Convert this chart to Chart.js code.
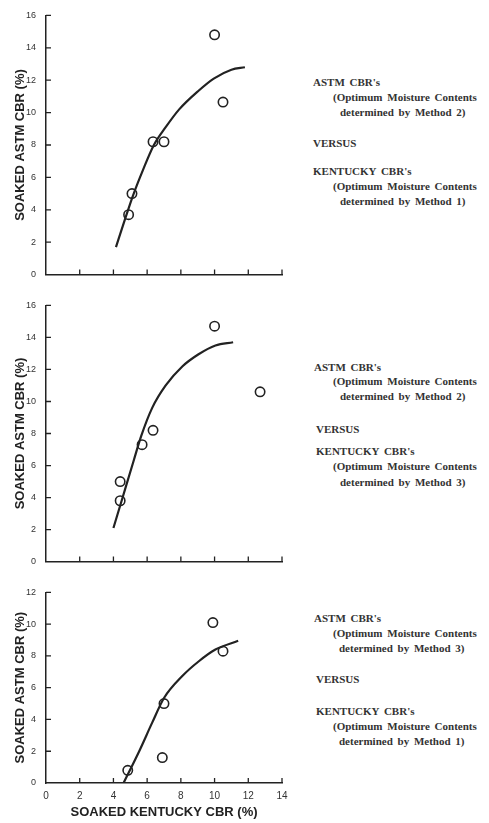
<!DOCTYPE html>
<html>
<head>
<meta charset="utf-8">
<title>Soaked ASTM CBR vs Soaked Kentucky CBR</title>
<script src="https://cdn.jsdelivr.net/npm/chart.js@4.4.1/dist/chart.umd.min.js"></script>
<style>
  html, body { margin: 0; padding: 0; background: #fff; }
  body { width: 489px; height: 823px; position: relative; overflow: hidden; }
  .panel { position: absolute; left: 0; width: 300px; }
  .note {
    position: absolute;
    font-family: "Liberation Serif", "DejaVu Serif", serif;
    font-weight: bold;
    font-size: 11px;
    line-height: 12px;
    color: #333;
    white-space: nowrap;
    word-spacing: 2px;
  }
</style>
</head>
<body>

<div class="panel" style="top:0;height:290px"><canvas id="chart1"></canvas></div>
<div class="panel" style="top:290px;height:287px"><canvas id="chart2"></canvas></div>
<div class="panel" style="top:577px;height:246px"><canvas id="chart3"></canvas></div>

<!-- panel 1 caption -->
<div class="note" style="left:313px;top:76px">ASTM CBR's</div>
<div class="note" style="left:333px;top:91px">(Optimum Moisture Contents</div>
<div class="note" style="left:340px;top:106px">determined by Method 2)</div>
<div class="note" style="left:313px;top:137px">VERSUS</div>
<div class="note" style="left:313px;top:165px">KENTUCKY CBR's</div>
<div class="note" style="left:333px;top:180px">(Optimum Moisture Contents</div>
<div class="note" style="left:340px;top:195px">determined by Method 1)</div>

<!-- panel 2 caption -->
<div class="note" style="left:314px;top:361px">ASTM CBR's</div>
<div class="note" style="left:333px;top:375px">(Optimum Moisture Contents</div>
<div class="note" style="left:340px;top:390px">determined by Method 2)</div>
<div class="note" style="left:316px;top:423px">VERSUS</div>
<div class="note" style="left:316px;top:445px">KENTUCKY CBR's</div>
<div class="note" style="left:333px;top:460px">(Optimum Moisture Contents</div>
<div class="note" style="left:340px;top:476px">determined by Method 3)</div>

<!-- panel 3 caption -->
<div class="note" style="left:314px;top:612px">ASTM CBR's</div>
<div class="note" style="left:333px;top:627px">(Optimum Moisture Contents</div>
<div class="note" style="left:339px;top:642px">determined by Method 3)</div>
<div class="note" style="left:316px;top:673px">VERSUS</div>
<div class="note" style="left:316px;top:705px">KENTUCKY CBR's</div>
<div class="note" style="left:333px;top:720px">(Optimum Moisture Contents</div>
<div class="note" style="left:339px;top:735px">determined by Method 1)</div>

<script>
// tick labels
const kentuckyTicks = [0, 2, 4, 6, 8, 10, 12, 14];
const astmTicks16 = [0, 2, 4, 6, 8, 10, 12, 14, 16];
const astmTicks12 = [0, 2, 4, 6, 8, 10, 12];

// panel 1: method 2 vs method 1
const kyCbr1 = [10.0, 10.5, 6.35, 7.0, 5.1, 4.9];
const astmCbr1 = [14.8, 10.65, 8.2, 8.2, 5.0, 3.7];
const fitKy1 = [4.15, 4.65, 5.15, 5.75, 6.4, 7.1, 7.9, 9.05, 9.95, 11.0, 11.8];
const fitAstm1 = [1.7, 3.3, 4.85, 6.45, 8.0, 9.1, 10.2, 11.35, 12.1, 12.65, 12.8];

// panel 2: method 2 vs method 3
const kyCbr2 = [10.0, 12.7, 6.35, 5.7, 4.4, 4.4];
const astmCbr2 = [14.7, 10.6, 8.2, 7.3, 5.0, 3.8];
const fitKy2 = [4.0, 4.5, 5.2, 5.65, 6.3, 7.1, 8.1, 9.05, 10.05, 11.1];
const fitAstm2 = [2.1, 3.85, 6.3, 7.85, 9.6, 11.0, 12.2, 12.95, 13.5, 13.7];

// panel 3: method 3 vs method 1
const kyCbr3 = [9.9, 10.5, 7.0, 6.9, 4.85];
const astmCbr3 = [10.1, 8.3, 5.0, 1.6, 0.8];
const fitKy3 = [4.6, 5.55, 6.3, 7.0, 8.1, 9.05, 10.05, 11.4];
const fitAstm3 = [0, 2.05, 3.8, 5.35, 6.75, 7.65, 8.4, 8.95];

const ink = '#222';

function pairs(xs, ys) {
    return xs.map((x, i) => ({ x: x, y: ys[i] }));
}

// ticks in the original point inwards, Chart.js only draws them outwards
const inwardTicks = {
    id: 'inwardTicks',
    afterDraw(chart) {
        const { ctx, chartArea } = chart;
        const x = chart.scales.x, y = chart.scales.y;
        ctx.save();
        ctx.strokeStyle = ink;
        ctx.lineWidth = 1.3;
        ctx.beginPath();
        x.ticks.forEach(t => {
            if (t.value === 0) return;
            const px = x.getPixelForValue(t.value);
            ctx.moveTo(px, chartArea.bottom);
            ctx.lineTo(px, chartArea.bottom - 5);
        });
        y.ticks.forEach(t => {
            if (t.value === 0) return;
            const py = y.getPixelForValue(t.value);
            ctx.moveTo(chartArea.left, py);
            ctx.lineTo(chartArea.left + 5, py);
        });
        ctx.stroke();
        ctx.restore();
    }
};

function makePanel(id, kx, ay, fx, fy, yTicks, showX, padTop, xHeight) {
    return new Chart(document.getElementById(id), {
        type: 'scatter',
        data: {
            datasets: [{
                data: pairs(fx, fy),
                showLine: true,
                borderColor: ink,
                borderWidth: 2.2,
                pointRadius: 0,
                cubicInterpolationMode: 'monotone',
                fill: false
            }, {
                data: pairs(kx, ay),
                pointRadius: 4.7,
                pointHoverRadius: 4.7,
                borderWidth: 1.6,
                borderColor: ink,
                backgroundColor: 'rgba(255,255,255,0)'
            }]
        },
        options: {
            responsive: true,
            maintainAspectRatio: false,
            animation: false,
            events: [],
            layout: { padding: { top: padTop, right: 18, left: 0, bottom: 0 } },
            plugins: {
                legend: { display: false },
                tooltip: { enabled: false }
            },
            scales: {
                x: {
                    type: 'linear',
                    min: kentuckyTicks[0],
                    max: kentuckyTicks[kentuckyTicks.length - 1],
                    afterBuildTicks: s => { s.ticks = kentuckyTicks.map(v => ({ value: v })); },
                    afterFit: s => { s.height = xHeight; },
                    grid: { display: false, drawTicks: false },
                    border: { display: true, color: ink, width: 1.5 },
                    ticks: {
                        display: showX,
                        padding: 7,
                        color: '#333',
                        autoSkip: false,
                        maxRotation: 0,
                        font: { family: 'Liberation Sans', size: 10 }
                    },
                    title: {
                        display: showX,
                        text: 'SOAKED KENTUCKY CBR (%)',
                        color: ink,
                        padding: { top: 0, bottom: 3 },
                        font: { family: 'Liberation Sans', size: 13, weight: 'bold' }
                    }
                },
                y: {
                    type: 'linear',
                    min: yTicks[0],
                    max: yTicks[yTicks.length - 1],
                    afterBuildTicks: s => { s.ticks = yTicks.map(v => ({ value: v })); },
                    afterFit: s => { s.width = 46; },
                    grid: { display: false, drawTicks: false },
                    border: { display: true, color: ink, width: 1.5 },
                    ticks: {
                        padding: 10,
                        color: '#333',
                        font: { family: 'Liberation Sans', size: 9 }
                    },
                    title: {
                        display: true,
                        text: 'SOAKED ASTM CBR (%)',
                        color: ink,
                        padding: { top: 13, bottom: 0 },
                        font: { family: 'Liberation Sans', size: 13, weight: 'bold' }
                    }
                }
            }
        },
        plugins: [inwardTicks]
    });
}

makePanel('chart1', kyCbr1, astmCbr1, fitKy1, fitAstm1, astmTicks16, false, 12, 8);
makePanel('chart2', kyCbr2, astmCbr2, fitKy2, fitAstm2, astmTicks16, false, 6, 10);
makePanel('chart3', kyCbr3, astmCbr3, fitKy3, fitAstm3, astmTicks12, true, 5, 40);
</script>
</body>
</html>
